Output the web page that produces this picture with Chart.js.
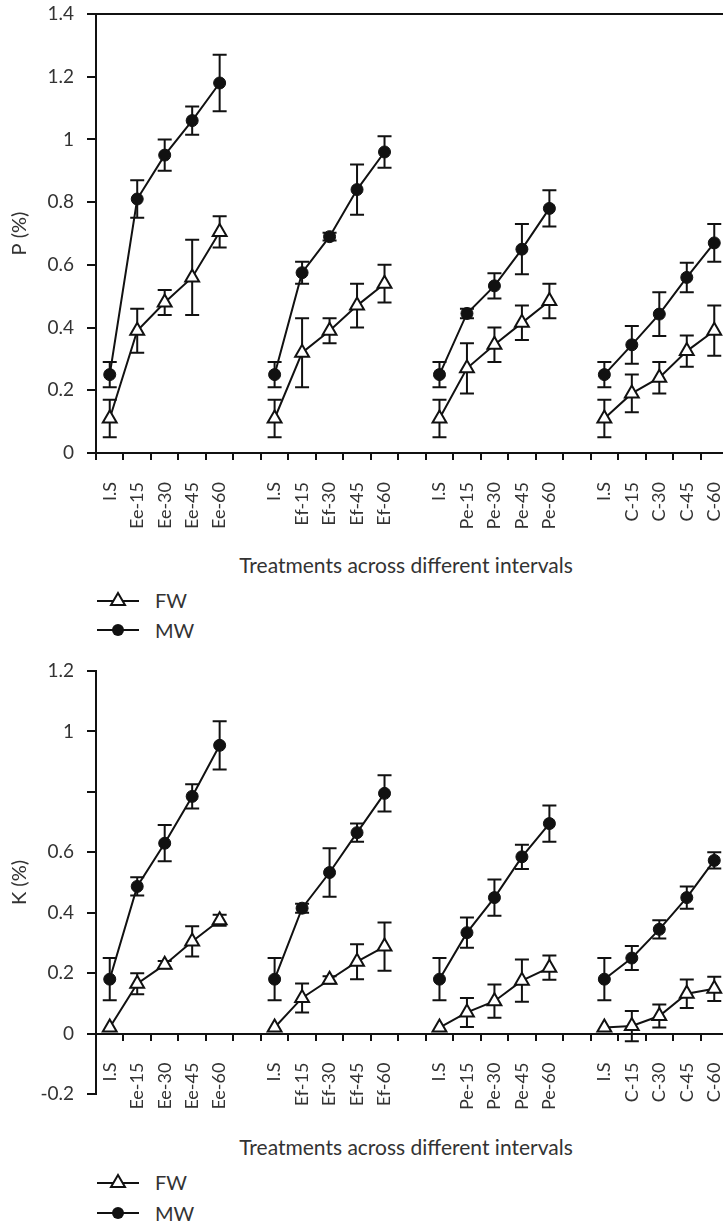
<!DOCTYPE html>
<html>
<head>
<meta charset="utf-8">
<script src="https://cdn.jsdelivr.net/npm/chart.js@4.4.1/dist/chart.umd.min.js"></script>
<style>
  html, body { margin: 0; padding: 0; background: #fff; overflow: hidden; }
  body { width: 723px; height: 1224px; position: relative; font-family: Lato, sans-serif; color: #333; }
  canvas { position: absolute; left: 0; }
  #chartP { top: 0; }
  #chartK { top: 650px; }
  .xtitle { position: absolute; left: 0; width: 812px; text-align: center; font-size: 21px; line-height: 24px; }
  .legend-row { position: absolute; left: 97px; height: 22px; display: flex; align-items: center; font-size: 20px; }
  .legend-row svg { margin-right: 16px; }
</style>
</head>
<body>
<canvas id="chartP" width="740" height="545"></canvas>
<div class="xtitle" style="top:553px">Treatments across different intervals</div>
<div class="legend-row" style="top:589px">
  <svg width="42" height="20"><line x1="0" y1="11" x2="42" y2="11" stroke="#111" stroke-width="2"/><polygon points="21,3 28,15 14,15" fill="#fff" stroke="#111" stroke-width="2"/></svg>FW
</div>
<div class="legend-row" style="top:619px">
  <svg width="42" height="20"><line x1="0" y1="10" x2="42" y2="10" stroke="#111" stroke-width="2"/><circle cx="21" cy="10" r="6" fill="#111"/></svg>MW
</div>

<canvas id="chartK" width="740" height="470"></canvas>
<div class="xtitle" style="top:1135px">Treatments across different intervals</div>
<div class="legend-row" style="top:1171px">
  <svg width="42" height="20"><line x1="0" y1="11" x2="42" y2="11" stroke="#111" stroke-width="2"/><polygon points="21,3 28,15 14,15" fill="#fff" stroke="#111" stroke-width="2"/></svg>FW
</div>
<div class="legend-row" style="top:1202px">
  <svg width="42" height="20"><line x1="0" y1="10" x2="42" y2="10" stroke="#111" stroke-width="2"/><circle cx="21" cy="10" r="6" fill="#111"/></svg>MW
</div>

<script>
// Treatment groups and sampling intervals
const groups = ['Ee', 'Ef', 'Pe', 'C'];
const intervals = ['15', '30', '45', '60'];

// P (%) - means and +/- error, 5 points per group (I.S, 15, 30, 45, 60)
const pFW    = [0.11, 0.39, 0.48, 0.56, 0.705,  0.11, 0.32, 0.39, 0.47, 0.54,  0.11, 0.27, 0.345, 0.415, 0.485,  0.11, 0.19, 0.24, 0.325, 0.39];
const pFWErr = [0.06, 0.07, 0.04, 0.12, 0.05,   0.06, 0.11, 0.04, 0.07, 0.06,  0.06, 0.08, 0.055, 0.055, 0.055,  0.06, 0.06, 0.05, 0.05, 0.08];
const pMW    = [0.25, 0.81, 0.95, 1.06, 1.18,   0.25, 0.575, 0.69, 0.84, 0.96,  0.25, 0.445, 0.533, 0.65, 0.78,  0.25, 0.345, 0.443, 0.56, 0.67];
const pMWErr = [0.04, 0.06, 0.05, 0.045, 0.09,  0.04, 0.035, 0.012, 0.08, 0.05,  0.04, 0.015, 0.04, 0.08, 0.058,  0.04, 0.06, 0.07, 0.047, 0.06];

// K (%)
const kFW    = [0.02, 0.165, 0.228, 0.305, 0.375,  0.02, 0.118, 0.178, 0.238, 0.288,  0.02, 0.07, 0.107, 0.175, 0.218,  0.02, 0.025, 0.058, 0.132, 0.148];
const kFWErr = [0, 0.035, 0.012, 0.05, 0.018,      0, 0.048, 0.012, 0.058, 0.08,      0, 0.048, 0.055, 0.07, 0.04,      0, 0.05, 0.038, 0.047, 0.04];
const kMW    = [0.18, 0.487, 0.63, 0.785, 0.954,   0.18, 0.415, 0.533, 0.665, 0.795,  0.18, 0.334, 0.45, 0.585, 0.695,  0.18, 0.25, 0.345, 0.45, 0.573];
const kMWErr = [0.07, 0.03, 0.06, 0.04, 0.08,      0.07, 0.015, 0.08, 0.03, 0.06,     0.07, 0.05, 0.06, 0.04, 0.06,     0.07, 0.04, 0.03, 0.037, 0.027];

const FONT = 'Lato, sans-serif';
const INK = '#111';

// x labels with an empty slot between groups
function buildLabels() {
    const out = [];
    groups.forEach((g, i) => {
        if (i > 0) out.push('');
        out.push('I.S');
        intervals.forEach(t => out.push(g + '-' + t));
    });
    return out;
}

// spread 5-per-group values over the slots, null in the gaps
function spread(values) {
    const out = [];
    groups.forEach((g, i) => {
        if (i > 0) out.push(null);
        out.push(...values.slice(i * 5, i * 5 + 5));
    });
    return out;
}

// vertical error bars with caps, drawn under the markers
const errorBars = {
    id: 'errorBars',
    beforeDatasetsDraw(chart) {
        const ctx = chart.ctx;
        const y = chart.scales.y;
        ctx.save();
        ctx.strokeStyle = INK;
        ctx.lineWidth = 2;
        chart.data.datasets.forEach((ds, i) => {
            const meta = chart.getDatasetMeta(i);
            ds.data.forEach((v, j) => {
                const e = ds.errors[j];
                if (v == null || !e) return;
                const x = meta.data[j].x;
                const top = y.getPixelForValue(v + e);
                const bot = y.getPixelForValue(v - e);
                ctx.beginPath();
                ctx.moveTo(x, top); ctx.lineTo(x, bot);
                ctx.moveTo(x - 7, top); ctx.lineTo(x + 7, top);
                ctx.moveTo(x - 7, bot); ctx.lineTo(x + 7, bot);
                ctx.stroke();
            });
        });
        ctx.restore();
    }
};

function makeChart(id, cfg) {
    const scales = {
        x: {
            type: 'category',
            position: { y: 0 },
            offset: true,
            grid: { offset: true, drawOnChartArea: false, tickLength: 6, tickColor: INK, lineWidth: 2 },
            border: { display: true, color: INK, width: 2 },
            ticks: { minRotation: 90, maxRotation: 90, autoSkip: false, padding: 23, color: '#333', font: { family: FONT, size: 18 } },
            afterFit(s) { s.paddingLeft = s.paddingRight = s.paddingTop = s.paddingBottom = 0; }
        },
        y: {
            min: cfg.min,
            max: cfg.max,
            ticks: {
                stepSize: 0.2,
                padding: 13,
                color: '#333',
                font: { family: FONT, size: 19 },
                callback: v => cfg.hide.some(h => Math.abs(h - v) < 1e-6) ? '' : Math.round(v * 10) / 10
            },
            grid: { drawOnChartArea: false, tickLength: 9, tickColor: INK, lineWidth: 2 },
            border: { display: true, color: INK, width: 2 },
            title: { display: true, text: cfg.title, color: '#333', font: { family: FONT, size: 20 }, padding: { top: 8, bottom: 0 } },
            afterFit(s) { s.width = 96; s.paddingTop = s.paddingBottom = 0; }
        }
    };
    if (cfg.topLine) {
        scales.x2 = {
            type: 'category',
            position: 'top',
            offset: true,
            ticks: { display: false },
            grid: { drawOnChartArea: false, drawTicks: false, lineWidth: 2 },
            border: { display: true, color: INK, width: 2 }
        };
    }
    return new Chart(document.getElementById(id), {
        type: 'line',
        data: {
            labels: buildLabels(),
            datasets: [
                {
                    label: 'FW',
                    data: spread(cfg.fw),
                    errors: spread(cfg.fwErr),
                    borderColor: INK,
                    borderWidth: 2,
                    pointStyle: 'triangle',
                    pointRadius: 8,
                    pointBackgroundColor: '#fff',
                    pointBorderColor: INK,
                    pointBorderWidth: 2,
                    spanGaps: false
                },
                {
                    label: 'MW',
                    data: spread(cfg.mw),
                    errors: spread(cfg.mwErr),
                    borderColor: INK,
                    borderWidth: 2,
                    pointStyle: 'circle',
                    pointRadius: 6,
                    pointBackgroundColor: INK,
                    pointBorderColor: INK,
                    pointBorderWidth: 1,
                    spanGaps: false
                }
            ]
        },
        options: {
            responsive: false,
            animation: false,
            devicePixelRatio: 1,
            layout: { autoPadding: false, padding: cfg.padding },
            plugins: { legend: { display: false }, tooltip: { enabled: false } },
            scales: scales
        },
        plugins: [errorBars]
    });
}

makeChart('chartP', {
    title: 'P (%)', min: 0, max: 1.4, hide: [], topLine: true,
    fw: pFW, fwErr: pFWErr, mw: pMW, mwErr: pMWErr,
    padding: { top: 14, bottom: 92, left: 0, right: 12 }
});

makeChart('chartK', {
    title: 'K (%)', min: -0.2, max: 1.2, hide: [0.8], topLine: false,
    fw: kFW, fwErr: kFWErr, mw: kMW, mwErr: kMWErr,
    padding: { top: 21, bottom: 26, left: 0, right: 12 }
});
</script>
</body>
</html>
